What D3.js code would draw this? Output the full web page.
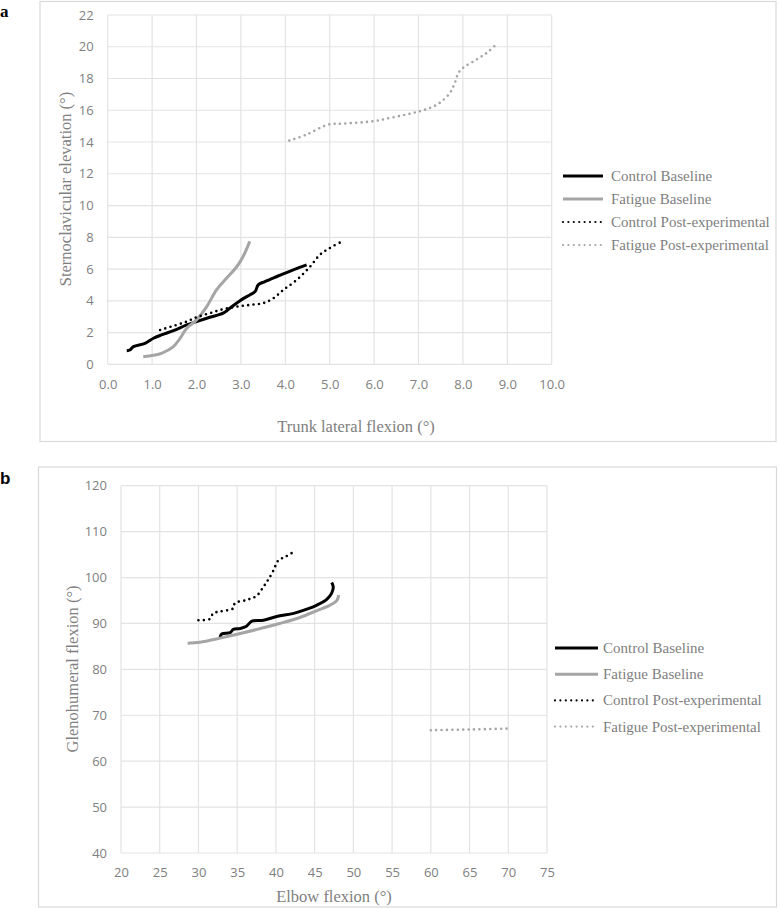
<!DOCTYPE html>
<html>
<head>
<meta charset="utf-8">
<script src="https://cdn.jsdelivr.net/npm/d3@7"></script>
<style>
  body { margin: 0; background: #fff; }
</style>
</head>
<body>
<div id="chart"></div>
<script>
// series names shared by both panels
var seriesNames = ["Control Baseline", "Fatigue Baseline", "Control Post-experimental", "Fatigue Post-experimental"];

// panel a : trunk lateral flexion (x) vs sternoclavicular elevation (y)
var aControlBase = [[0.43, 0.86], [0.50, 0.90], [0.58, 1.11], [0.84, 1.32], [1.03, 1.64], [1.21, 1.85], [1.48, 2.12], [1.78, 2.48], [2.00, 2.69], [2.30, 2.96], [2.60, 3.22], [2.75, 3.53], [2.98, 4.01], [3.20, 4.37], [3.32, 4.58], [3.39, 5.00], [3.54, 5.21], [3.81, 5.53], [4.18, 5.95], [4.48, 6.26]];
var aFatigueBase = [[0.80, 0.48], [1.03, 0.57], [1.21, 0.69], [1.48, 1.11], [1.63, 1.64], [1.78, 2.27], [2.00, 2.80], [2.23, 3.63], [2.45, 4.69], [2.68, 5.43], [2.91, 6.16], [3.05, 6.79], [3.20, 7.74]];
var aControlPost = [[1.18, 2.16], [1.48, 2.42], [1.78, 2.69], [2.00, 2.96], [2.30, 3.22], [2.60, 3.47], [2.90, 3.63], [3.20, 3.74], [3.50, 3.85], [3.73, 4.16], [3.96, 4.69], [4.26, 5.32], [4.56, 6.16], [4.78, 6.90], [5.00, 7.32], [5.23, 7.67]];
var aFatiguePost = [[4.09, 14.09], [4.48, 14.47], [4.97, 15.10], [5.31, 15.16], [5.98, 15.31], [6.36, 15.52], [6.73, 15.73], [7.03, 15.94], [7.26, 16.15], [7.48, 16.47], [7.71, 17.10], [7.82, 17.73], [7.90, 18.36], [8.01, 18.68], [8.31, 19.20], [8.54, 19.62], [8.75, 20.15]];
var aXTicks = [0, 1, 2, 3, 4, 5, 6, 7, 8, 9, 10];
var aYTicks = [0, 2, 4, 6, 8, 10, 12, 14, 16, 18, 20, 22];

// panel b : elbow flexion (x) vs glenohumeral flexion (y)
var bControlBase = [[32.8, 87.0], [33.0, 87.7], [34.1, 88.0], [34.5, 88.7], [35.4, 88.9], [36.2, 89.4], [36.9, 90.5], [38.4, 90.7], [40.1, 91.5], [42.3, 92.2], [44.0, 93.1], [45.3, 94.0], [46.6, 95.3], [47.2, 96.6], [47.4, 98.0], [47.2, 98.9]];
var bFatigueBase = [[28.6, 85.7], [30.2, 85.9], [32.8, 86.8], [35.4, 87.8], [38.0, 88.9], [40.5, 90.0], [43.1, 91.3], [45.3, 92.8], [47.0, 94.0], [47.9, 95.1], [48.1, 96.2]];
var bControlPost = [[30.0, 90.7], [31.5, 91.0], [31.9, 92.2], [32.8, 92.6], [34.5, 93.3], [34.7, 94.4], [36.2, 95.1], [37.5, 96.0], [38.4, 98.0], [39.0, 99.5], [39.7, 101.6], [40.3, 103.7], [41.2, 104.5], [42.5, 105.8]];
var bFatiguePost = [[60, 66.75], [65, 66.9], [70, 67.1]];
var bXTicks = [20, 25, 30, 35, 40, 45, 50, 55, 60, 65, 70, 75];
var bYTicks = [40, 50, 60, 70, 80, 90, 100, 110, 120];

// line look per series (same order as seriesNames)
var styles = [
  { color: "#000000", width: 3, dash: null },
  { color: "#a5a5a5", width: 3, dash: null },
  { color: "#000000", width: 2.6, dash: "0 5.4" },
  { color: "#a5a5a5", width: 2.6, dash: "0 5.4" }
];

var svg = d3.select("#chart")
  .append("svg")
  .attr("width", 779)
  .attr("height", 908);

function drawPanel(p) {
  var g = svg.append("g");

  // outer frame
  g.append("rect")
    .attr("x", p.box[0]).attr("y", p.box[1])
    .attr("width", p.box[2]).attr("height", p.box[3])
    .attr("fill", "#fff")
    .attr("stroke", "#d9d9d9")
    .attr("stroke-width", 1.2);

  // panel letter
  g.append("text")
    .attr("x", 0).attr("y", p.letterY)
    .attr("font-family", p.letterFont)
    .attr("font-weight", "bold")
    .attr("font-size", "17px")
    .attr("fill", "#000")
    .text(p.letter);

  var x = d3.scaleLinear().domain(d3.extent(p.xTicks)).range([p.left, p.right]);
  var y = d3.scaleLinear().domain(d3.extent(p.yTicks)).range([p.bottom, p.top]);

  // gridlines
  g.selectAll(".vg").data(p.xTicks).enter().append("line")
    .attr("x1", function (d) { return x(d); }).attr("x2", function (d) { return x(d); })
    .attr("y1", p.top).attr("y2", p.bottom)
    .attr("stroke", "#e3e3e3").attr("stroke-width", 1.2);
  g.selectAll(".hg").data(p.yTicks).enter().append("line")
    .attr("x1", p.left).attr("x2", p.right)
    .attr("y1", function (d) { return y(d); }).attr("y2", function (d) { return y(d); })
    .attr("stroke", "#e3e3e3").attr("stroke-width", 1.2);

  // axes (labels only, lines come from the grid)
  var xAxis = g.append("g")
    .attr("transform", "translate(0," + p.bottom + ")")
    .call(d3.axisBottom(x).tickValues(p.xTicks).tickFormat(d3.format(p.xFormat)).tickSize(0).tickPadding(15));
  var yAxis = g.append("g")
    .attr("transform", "translate(" + p.left + ",0)")
    .call(d3.axisLeft(y).tickValues(p.yTicks).tickFormat(d3.format("d")).tickSize(0).tickPadding(14));
  [xAxis, yAxis].forEach(function (a) {
    a.select(".domain").remove();
    a.selectAll("text")
      .attr("font-family", "'Open Sans', sans-serif")
      .attr("font-size", "13px")
      .attr("fill", "#808080");
  });

  // axis titles
  g.append("text")
    .attr("x", p.xTitlePos[0]).attr("y", p.xTitlePos[1])
    .attr("text-anchor", "middle")
    .attr("font-family", "'Liberation Serif', serif")
    .attr("font-size", "16.5px")
    .attr("fill", "#808080")
    .text(p.xTitle);
  g.append("text")
    .attr("transform", "translate(" + p.yTitlePos[0] + "," + p.yTitlePos[1] + ") rotate(-90)")
    .attr("text-anchor", "middle")
    .attr("dy", "0.35em")
    .attr("font-family", "'Liberation Serif', serif")
    .attr("font-size", "16.5px")
    .attr("fill", "#808080")
    .text(p.yTitle);

  // series lines
  var line = d3.line()
    .x(function (d) { return x(d[0]); })
    .y(function (d) { return y(d[1]); })
    .curve(d3.curveCatmullRom.alpha(0.5));

  p.series.forEach(function (s, i) {
    var st = styles[i];
    g.append("path")
      .datum(s)
      .attr("d", line)
      .attr("fill", "none")
      .attr("stroke", st.color)
      .attr("stroke-width", st.width)
      .attr("stroke-linecap", st.dash ? "round" : "butt")
      .attr("stroke-linejoin", "round")
      .attr("stroke-dasharray", st.dash);
  });

  // legend
  var lg = g.selectAll(".lg").data(seriesNames).enter().append("g")
    .attr("transform", function (d, i) { return "translate(0," + (p.legendY + i * p.legendStep) + ")"; });
  lg.append("line")
    .attr("x1", p.legendX).attr("x2", p.legendX + p.legendLen)
    .attr("y1", 0).attr("y2", 0)
    .attr("stroke", function (d, i) { return styles[i].color; })
    .attr("stroke-width", function (d, i) { return styles[i].dash ? 2.2 : 3; })
    .attr("stroke-linecap", function (d, i) { return styles[i].dash ? "round" : "butt"; })
    .attr("stroke-dasharray", function (d, i) { return styles[i].dash ? "0 5.4" : null; });
  lg.append("text")
    .attr("x", p.legendX + p.legendLen + p.legendGap)
    .attr("y", 5)
    .attr("font-family", "'Liberation Serif', serif")
    .attr("font-size", "15px")
    .attr("fill", "#808080")
    .text(function (d) { return d; });
}

drawPanel({
  box: [40, 1.5, 736, 440],
  letter: "a", letterY: 17, letterFont: "'Liberation Serif', serif",
  left: 107.7, right: 551.7, top: 15, bottom: 364.3,
  xTicks: aXTicks, yTicks: aYTicks, xFormat: ".1f",
  xTitle: "Trunk lateral flexion (°)", xTitlePos: [356, 432],
  yTitle: "Sternoclavicular elevation (°)", yTitlePos: [65, 189],
  series: [aControlBase, aFatigueBase, aControlPost, aFatiguePost],
  legendX: 563, legendLen: 40, legendGap: 8, legendY: 176, legendStep: 23
});

drawPanel({
  box: [38.5, 467, 738, 440],
  letter: "b", letterY: 484, letterFont: "'Liberation Sans', Arial, sans-serif",
  left: 121, right: 547, top: 485.7, bottom: 853,
  xTicks: bXTicks, yTicks: bYTicks, xFormat: "d",
  xTitle: "Elbow flexion (°)", xTitlePos: [334, 902],
  yTitle: "Glenohumeral flexion (°)", yTitlePos: [72, 669],
  series: [bControlBase, bFatigueBase, bControlPost, bFatiguePost],
  legendX: 555, legendLen: 43, legendGap: 5, legendY: 648, legendStep: 26.2
});
</script>
</body>
</html>
